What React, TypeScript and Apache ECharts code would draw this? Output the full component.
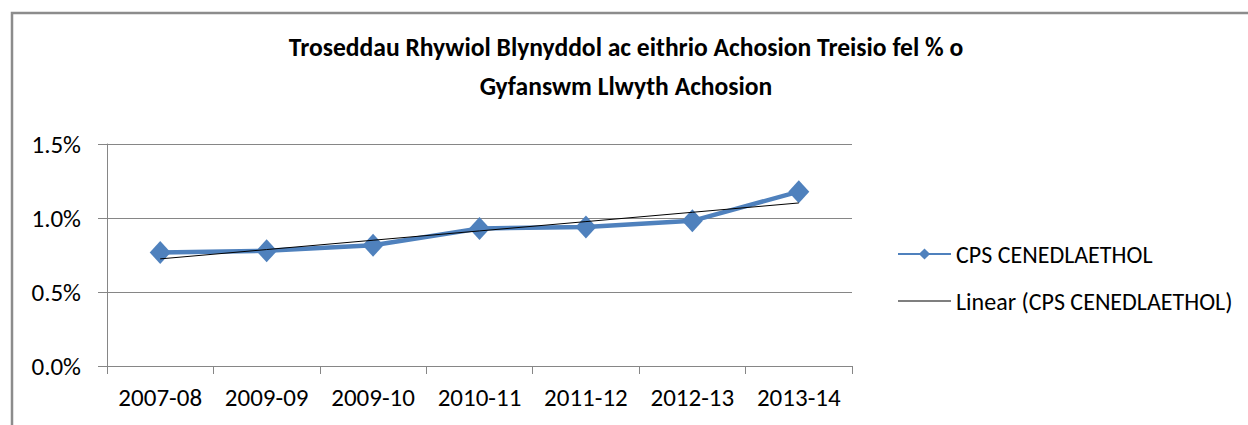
import React, { useEffect, useRef } from "react";
import * as echarts from "echarts";

const categories = ["2007-08", "2009-09", "2009-10", "2010-11", "2011-12", "2012-13", "2013-14"];
const seriesName = "CPS CENEDLAETHOL";
const trendName = "Linear (CPS CENEDLAETHOL)";
const values = [0.767, 0.778, 0.816, 0.929, 0.94, 0.981, 1.178];
const titleLines = [
  "Troseddau Rhywiol Blynyddol ac eithrio Achosion Treisio fel % o",
  "Gyfanswm Llwyth Achosion",
];

function linearTrend(ys: number[]): number[] {
  const n = ys.length;
  const mx = (n - 1) / 2;
  const my = ys.reduce((a, b) => a + b, 0) / n;
  let num = 0;
  let den = 0;
  ys.forEach((y, i) => {
    num += (i - mx) * (y - my);
    den += (i - mx) * (i - mx);
  });
  const slope = num / den;
  return ys.map((_, i) => +(my + slope * (i - mx)).toFixed(4));
}

const FONT = "Carlito, 'Liberation Sans Narrow', 'Open Sans', sans-serif";

export default function App() {
  const ref = useRef<HTMLDivElement>(null);
  useEffect(() => {
    if (!ref.current) return;
    const chart = echarts.init(ref.current, null, { renderer: "svg" });
    const trend = linearTrend(values);
    chart.setOption({
      animation: false,
      backgroundColor: "#ffffff",
      title: {
        text: titleLines.join("\n"),
        left: 621,
        textAlign: "center",
        top: 23,
        textStyle: {
          fontFamily: FONT,
          fontWeight: "bold",
          fontSize: 25.6,
          lineHeight: 39,
          color: "#000",
        },
      },
      graphic: [
        {
          type: "rect",
          shape: { x: 12, y: 13, width: 1300, height: 500 },
          style: { fill: "none", stroke: "#8c8c8c", lineWidth: 2.5 },
          silent: true,
          z: -1,
        },
      ],
      legend: {
        orient: "vertical",
        left: 892,
        top: 237,
        itemWidth: 53,
        itemHeight: 14,
        itemGap: 23,
        textStyle: { fontFamily: FONT, fontSize: 24, color: "#000" },
        data: [
          { name: seriesName },
          { name: trendName, icon: "path://M0 0H100V2H0Z", itemStyle: { color: "#000" } },
        ],
      },
      grid: { left: 107, right: 396, top: 144, bottom: 59 },
      xAxis: {
        type: "category",
        data: categories,
        boundaryGap: true,
        axisLine: { lineStyle: { color: "#868686", width: 1 } },
        axisTick: { show: true, interval: 0, length: 8, lineStyle: { color: "#868686" } },
        axisLabel: { interval: 0, fontFamily: FONT, fontSize: 25, color: "#000", margin: 19 },
      },
      yAxis: {
        type: "value",
        min: 0,
        max: 1.5,
        interval: 0.5,
        axisLine: { show: true, lineStyle: { color: "#868686", width: 1 } },
        axisTick: { show: true, length: 9, inside: false, lineStyle: { color: "#868686" } },
        splitLine: { lineStyle: { color: "#868686", width: 1 } },
        axisLabel: {
          fontFamily: FONT,
          fontSize: 25,
          color: "#000",
          margin: 26,
          formatter: (v: number) => v.toFixed(1) + "%",
        },
      },
      series: [
        {
          name: seriesName,
          type: "line",
          data: values,
          symbol: "diamond",
          symbolSize: [21, 23],
          lineStyle: { color: "#4F81BD", width: 4.5 },
          itemStyle: { color: "#4F81BD" },
          z: 2,
        },
        {
          name: trendName,
          type: "line",
          data: trend,
          symbol: "none",
          lineStyle: { color: "#000", width: 1 },
          itemStyle: { color: "#000" },
          z: 3,
        },
      ],
    });
    return () => chart.dispose();
  }, []);
  return (
    <div
      ref={ref}
      style={{ position: "fixed", left: 0, top: 0, width: 1248, height: 425 }}
    />
  );
}
